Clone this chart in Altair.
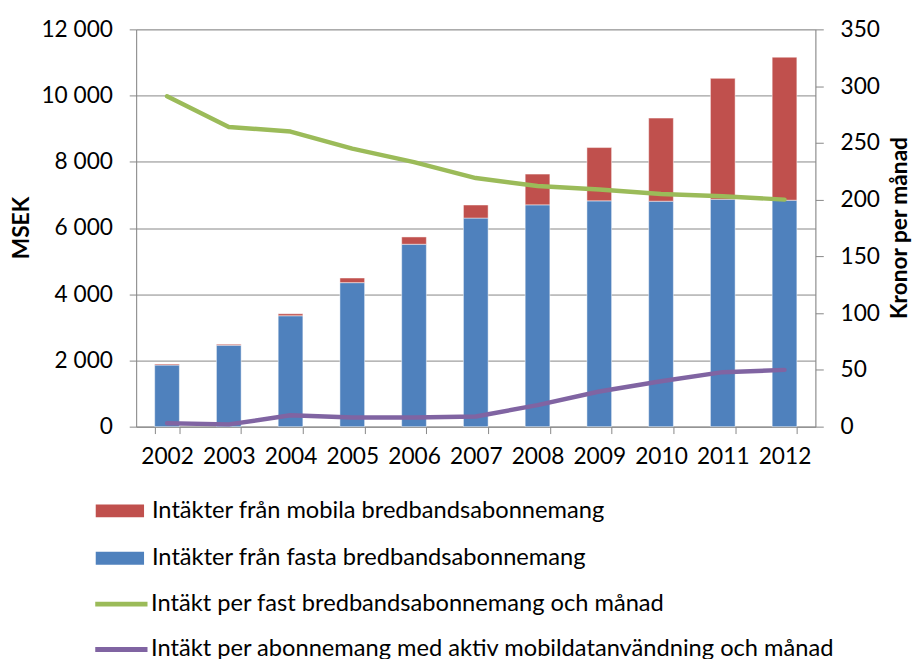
import altair as alt
import pandas as pd

years = ["2002", "2003", "2004", "2005", "2006", "2007", "2008", "2009", "2010", "2011", "2012"]
fasta = [1860, 2460, 3350, 4350, 5510, 6300, 6700, 6820, 6810, 6870, 6840]
mobila = [30, 30, 60, 140, 220, 395, 930, 1610, 2510, 3650, 4320]
per_fast = [291, 264, 260, 245, 233, 219, 212, 209, 205, 203, 200]
per_mobil = [3, 2, 10, 8, 8, 9, 19, 31, 40, 48, 50]

S_MOB = "Intäkter från mobila bredbandsabonnemang"
S_FAST = "Intäkter från fasta bredbandsabonnemang"
L_FAST = "Intäkt per fast bredbandsabonnemang och månad"
L_MOB = "Intäkt per abonnemang med aktiv mobildatanvändning och månad"

RED, BLUE, GREEN, PURPLE = "#C0504D", "#4F81BD", "#9BBB59", "#8064A2"
GRAY = "#868686"
FONT = "Lato"

bars_df = pd.DataFrame(
    [{"year": y, "series": S_FAST, "value": v, "ord": 0} for y, v in zip(years, fasta)]
    + [{"year": y, "series": S_MOB, "value": v, "ord": 1} for y, v in zip(years, mobila)]
)
lines_df = pd.DataFrame(
    [{"year": y, "series": L_FAST, "value": v} for y, v in zip(years, per_fast)]
    + [{"year": y, "series": L_MOB, "value": v} for y, v in zip(years, per_mobil)]
)

x_enc = alt.X(
    "year:O",
    title=None,
    scale=alt.Scale(paddingInner=0.6, paddingOuter=0.3),
    axis=alt.Axis(
        labelAngle=0, tickBand="extent", tickSize=7, labelPadding=12,
        domainColor=GRAY, tickColor=GRAY, labelFontSize=23, labelFont=FONT,
        labelColor="black", grid=False,
    ),
)

bars = alt.Chart(bars_df).mark_bar(stroke="white", strokeWidth=0.8, strokeOpacity=0.6).encode(
    x=x_enc,
    y=alt.Y(
        "value:Q", stack="zero",
        scale=alt.Scale(domain=[0, 12000], nice=False),
        axis=alt.Axis(
            title="MSEK", values=list(range(0, 12001, 2000)),
            labelExpr="replace(datum.label, ',', ' ')",
            tickSize=7, labelPadding=17, domainColor=GRAY, tickColor=GRAY,
            gridColor=GRAY, gridWidth=1, labelFontSize=23, labelFont=FONT,
            labelColor="black", titleFont=FONT, titleFontSize=23, titleFontWeight="bold",
            titleColor="black", titleX=-116, titleY=201, titleAngle=270,
            titleAlign="center", titleBaseline="middle",
        ),
    ),
    color=alt.Color(
        "series:N",
        scale=alt.Scale(domain=[S_MOB, S_FAST], range=[RED, BLUE]),
        legend=alt.Legend(
            title=None, orient="none", legendX=-41, legendY=464, direction="vertical",
            symbolType="M-1,-0.265L1,-0.265L1,0.265L-1,0.265Z", symbolSize=2401,
            symbolStrokeWidth=0, labelFontSize=24, labelFont=FONT, labelColor="black",
            labelLimit=900, labelOffset=8, rowPadding=11, padding=0,
        ),
    ),
    order=alt.Order("ord:Q"),
)

lines = alt.Chart(lines_df).mark_line(strokeWidth=4.5, strokeCap="round", strokeJoin="round").encode(
    x=alt.X("year:O"),
    y=alt.Y(
        "value:Q",
        scale=alt.Scale(domain=[0, 350], nice=False),
        axis=alt.Axis(
            orient="right", title="Kronor per månad", values=list(range(0, 351, 50)),
            tickSize=8, labelPadding=17, domainColor=GRAY, tickColor=GRAY, grid=False,
            labelFontSize=23, labelFont=FONT, labelColor="black", titleFont=FONT,
            titleFontSize=23, titleFontWeight="bold", titleColor="black",
            titleX=85, titleY=201, titleAngle=270, titleAlign="center", titleBaseline="middle",
        ),
    ),
    color=alt.Color(
        "series:N",
        scale=alt.Scale(domain=[L_FAST, L_MOB], range=[GREEN, PURPLE]),
        legend=alt.Legend(
            title=None, orient="none", legendX=-44, legendY=554, direction="vertical",
            symbolType="stroke", symbolSize=2809, symbolStrokeWidth=5,
            labelFontSize=24, labelFont=FONT, labelColor="black", labelLimit=900,
            labelOffset=1, rowPadding=5, padding=0,
        ),
    ),
)

chart = (
    alt.layer(bars, lines)
    .resolve_scale(y="independent", color="independent")
    .properties(
        width=689, height=403,
        autosize=alt.AutoSizeParams(type="none"),
        padding={"left": 130, "top": 17, "right": 98, "bottom": 231},
    )
    .configure_view(stroke=None)
    .configure(background="white")
)

chart.save("out.html", embed_options={"renderer": "svg", "actions": False})
